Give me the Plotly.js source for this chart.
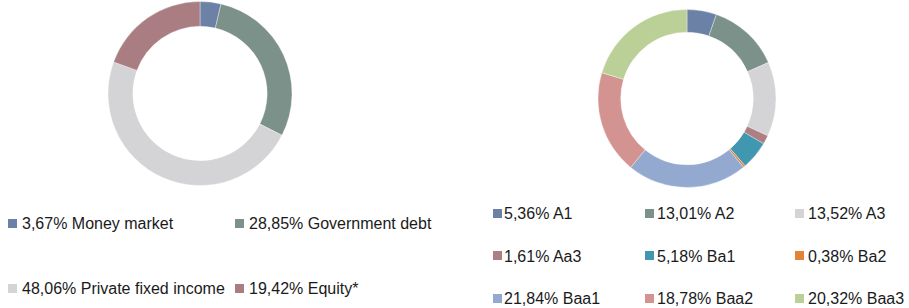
<!DOCTYPE html>
<html>
<head>
<meta charset="utf-8">
<script src="https://cdn.plot.ly/plotly-3.0.1.min.js"></script>
<style>html,body{margin:0;padding:0;background:#fff}#chart{width:909px;height:308px}</style>
</head>
<body>
<div id="chart"></div>
<script>
// Left donut: asset allocation
const assetLabels = ["Money market", "Government debt", "Private fixed income", "Equity*"];
const assetValues = [3.67, 28.85, 48.06, 19.42];
const assetColors = ["#6b82a6", "#7b9189", "#d4d4d6", "#a97d81"];

// Right donut: ratings
const ratingLabels = ["A1", "A2", "A3", "Aa3", "Ba1", "Ba2", "Baa1", "Baa2", "Baa3"];
const ratingValues = [5.36, 13.01, 13.52, 1.61, 5.18, 0.38, 21.84, 18.78, 20.32];
const ratingColors = ["#6b82a6", "#7b9189", "#d4d4d6", "#ad7e82", "#4197af", "#e1843a", "#94a9d0", "#d39391", "#bbd097"];

const W = 909, H = 308;
const fmt = v => v.toFixed(2).replace('.', ',') + '%';
const px = x => x / W;
const py = y => 1 - y / H;

const traces = [
  {
    type: 'pie', labels: assetLabels, values: assetValues, sort: false,
    direction: 'clockwise', rotation: 0, hole: 0.73,
    marker: {colors: assetColors, line: {color: 'rgba(255,255,255,0.6)', width: 0.6}},
    textinfo: 'none', hoverinfo: 'label+value', showlegend: false,
    domain: {x: [px(108), px(292)], y: [py(185.5), py(1.5)]}
  },
  {
    type: 'pie', labels: ratingLabels, values: ratingValues, sort: false,
    direction: 'clockwise', rotation: 0, hole: 0.745,
    marker: {colors: ratingColors, line: {color: 'rgba(255,255,255,0.6)', width: 0.6}},
    textinfo: 'none', hoverinfo: 'label+value', showlegend: false,
    domain: {x: [px(598), px(776)], y: [py(187.5), py(9.5)]}
  }
];

const annotations = [];
const font = {family: 'Liberation Sans, Arial, sans-serif', size: 16, color: '#1a1a1a'};
function addItem(label, value, color, mx, tx, y) {
  annotations.push({xref: 'paper', yref: 'paper', x: px(mx), y: py(y), xanchor: 'left', yanchor: 'middle',
    text: ' ', showarrow: false, width: 9, height: 9, bgcolor: color, borderpad: 0, borderwidth: 0, font: {size: 4}});
  annotations.push({xref: 'paper', yref: 'paper', x: px(tx), y: py(y + 0.5), xanchor: 'left', yanchor: 'middle',
    text: fmt(value) + ' ' + label, showarrow: false, borderpad: 0, font: font});
}
// left legend: 2 columns
const leftCols = [[8, 21], [235, 248]];
const leftRows = [223, 288];
assetLabels.forEach((l, i) => {
  const c = leftCols[i % 2], r = leftRows[Math.floor(i / 2)];
  addItem(l, assetValues[i], assetColors[i], c[0], c[1], r);
});
// right legend: 3 columns
const rightCols = [[493, 503], [645, 656], [795, 807]];
const rightRows = [213, 255.5, 298];
ratingLabels.forEach((l, i) => {
  const c = rightCols[i % 3], r = rightRows[Math.floor(i / 3)];
  addItem(l, ratingValues[i], ratingColors[i], c[0], c[1], r);
});

Plotly.newPlot('chart', traces, {
  width: W, height: H, margin: {l: 0, r: 0, t: 0, b: 0},
  paper_bgcolor: '#fff', plot_bgcolor: '#fff', showlegend: false,
  annotations: annotations
}, {displayModeBar: false, staticPlot: true});
</script>
</body>
</html>
